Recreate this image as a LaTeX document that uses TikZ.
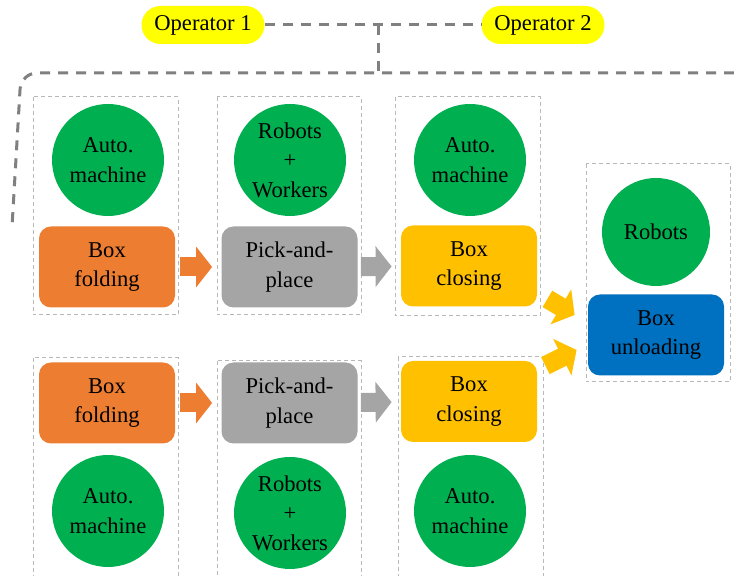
\documentclass[tikz,border=0pt]{standalone}
\usepackage{fontspec}
\setmainfont{Liberation Serif}
\newfontfamily\lblfont{Liberation Serif}
\usetikzlibrary{arrows.meta,calc}
\definecolor{grnC}{RGB}{0,176,80}
\definecolor{orgC}{RGB}{237,125,49}
\definecolor{gryC}{RGB}{165,165,165}
\definecolor{ylwC}{RGB}{255,192,0}
\definecolor{bluC}{RGB}{0,112,192}
\definecolor{pilC}{RGB}{255,255,0}
\tikzset{res/.style={circle, fill=grnC, minimum size=56pt, inner sep=0pt, align=center},
  task/.style={fill=#1, rounded corners=6pt, minimum width=68pt, minimum height=40.5pt, inner sep=0pt, align=center},
  opr/.style={fill=pilC, rounded corners=9.5pt, minimum width=61.5pt, minimum height=19pt, inner sep=0pt},
  grp/.style={draw=black!28, line width=0.5pt, dash pattern=on 2pt off 1.5pt},
  oline/.style={draw=black!50, line width=1.5pt, dash pattern=on 5pt off 4pt},
  flow/.style={draw=#1, line width=9.5pt, -{Triangle[length=8pt, width=20pt]}}}

\begin{document}
\begin{tikzpicture}[x=0.5pt, y=-0.5pt, font=\lblfont\fontsize{11.3}{14.8}\selectfont]
  \useasboundingbox (0,0) rectangle (734,576);
  % operators
  \node[opr] (op1) at (203,25) {Operator 1};
  \node[opr] (op2) at (543,25) {Operator 2};
  \coordinate (jt) at (378,25);
  \coordinate (jb) at (378,73);
  \coordinate (rend) at (734,73);
  \coordinate (lend) at (12,227);
  \draw[oline] (op1) -- (op2);
  \draw[oline] (jt) -- (jb);
  \draw[oline, rounded corners=8pt] (rend) -- (21,73) -- (lend);
  % groups
  \draw[grp] (33,97) rectangle (178,315);
  \draw[grp] (217,97) rectangle (361,315);
  \draw[grp] (395,97) rectangle (540,316);
  \draw[grp] (33,358) rectangle (178,580);
  \draw[grp] (217,361) rectangle (361,580);
  \draw[grp] (398,357) rectangle (543,580);
  \draw[grp] (586,164) rectangle (730,382);
  % upper line
  \node[res] (a1) at (108,160) {Auto.\\machine};
  \node[res] (w1) at (290,160) {Robots\\+\\Workers};
  \node[res] (m1) at (470,160) {Auto.\\machine};
  \node[task=orgC] (f1) at (107,267) {Box\\folding};
  \node[task=gryC] (p1) at (289.5,267) {Pick-and-\\place};
  \node[task=ylwC] (c1) at (469,266) {Box\\closing};
  % lower line
  \node[task=orgC] (f2) at (107,403) {Box\\folding};
  \node[task=gryC] (p2) at (289.5,403) {Pick-and-\\place};
  \node[task=ylwC] (c2) at (469,401.5) {Box\\closing};
  \node[res] (a2) at (108,511) {Auto.\\machine};
  \node[res] (w2) at (290,513) {Robots\\+\\Workers};
  \node[res] (m2) at (470,511) {Auto.\\machine};
  % unloading
  \node[res, minimum size=54pt] (r) at (656,232) {Robots};
  \node[task=bluC] (u) at (656,335) {Box\\unloading};
  % flows
  \draw[flow=orgC, shorten <=2.5pt, shorten >=4.5pt] (f1) -- (p1);
  \draw[flow=gryC, shorten <=1.5pt, shorten >=4.5pt] (p1) -- (c1);
  \draw[flow=orgC, shorten <=2.5pt, shorten >=4.5pt] (f2) -- (p2);
  \draw[flow=gryC, shorten <=1.5pt, shorten >=4.5pt] (p2) -- (c2);
  \draw[flow=ylwC] ($(c1.south east)+(10,-8)$) -- ($(u.west)+(-13,-20)$);
  \draw[flow=ylwC] ($(c2.north east)+(8,5)$) -- ($(u.west)+(-11,15)$);
\end{tikzpicture}
\end{document}
